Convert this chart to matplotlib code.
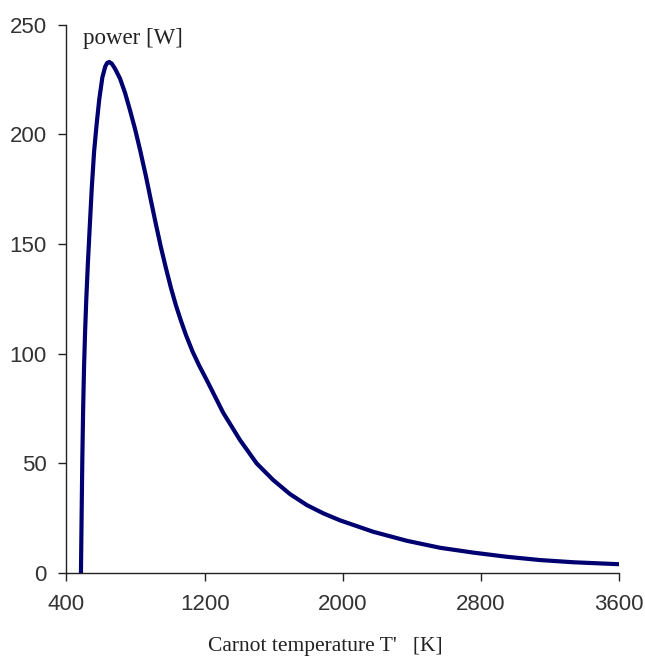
import matplotlib
matplotlib.use("Agg")
import matplotlib.pyplot as plt

# Carnot temperature T' [K] and power [W]
T = [484, 488, 492, 497, 502, 508, 515, 524, 535, 547, 560, 574, 590,
     608, 625, 636, 648, 662, 681, 710, 739, 768, 797, 826, 860, 890,
     918, 947, 976, 1005, 1034, 1063, 1092, 1130, 1169, 1212, 1308,
     1405, 1501, 1597, 1694, 1791, 1887, 1984, 2176, 2370, 2563, 2755,
     2949, 3142, 3334, 3600]
P = [0, 27, 52, 76, 94, 110, 125, 141, 158, 176, 192, 204, 216,
     226, 231, 232.6, 233, 232.3, 230, 225.5, 219, 211, 202.5, 193, 181, 169.5,
     159, 148.5, 139, 130, 122, 115, 108.5, 101, 94.5, 88, 73,
     60.6, 50, 42.4, 36.0, 31.0, 27.2, 24.0, 18.8, 14.7, 11.5, 9.3,
     7.4, 5.9, 4.9, 4.0]

xticks = [400, 1200, 2000, 2800, 3600]
yticks = [0, 50, 100, 150, 200, 250]

fig = plt.figure(figsize=(6.45, 6.59), dpi=100)
ax = fig.add_axes([0.103, 0.1305, 0.857, 0.832])

ax.plot(T, P, color="#000070", lw=3.0, solid_capstyle="butt",
        solid_joinstyle="round")

ax.set_xlim(400, 3600)
ax.set_ylim(0, 250)
ax.set_xticks(xticks)
ax.set_yticks(yticks)

for s in ["top", "right"]:
    ax.spines[s].set_visible(False)
for s in ["left", "bottom"]:
    ax.spines[s].set_color("#222222")
    ax.spines[s].set_linewidth(1.0)

ax.tick_params(direction="out", length=6, width=1.0, colors="#222222",
               labelcolor="#333333")
ax.tick_params(axis="x", pad=9)
ax.tick_params(axis="y", pad=8)
for lab in ax.get_xticklabels() + ax.get_yticklabels():
    lab.set_fontfamily("Liberation Sans")
    lab.set_fontsize(16)

ax.text(0.03, 0.975, "power [W]", transform=ax.transAxes, ha="left",
        va="center", family="Liberation Serif", fontsize=16.5, color="#222222")
fig.text(325 / 645, 1 - 647 / 659, "Carnot temperature T'   [K]",
         ha="center", va="center", family="Liberation Serif", fontsize=15.5,
         color="#222222")

fig.savefig("out.png", dpi=100)
